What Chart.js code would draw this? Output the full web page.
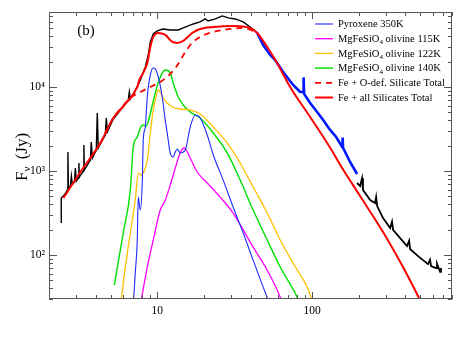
<!DOCTYPE html>
<html>
<head>
<meta charset="utf-8">
<script src="https://cdn.jsdelivr.net/npm/chart.js@4.4.1/dist/chart.umd.min.js"></script>
<style>
  html, body { margin: 0; padding: 0; background: #fff; }
  #wrap { width: 463px; height: 344px; }
</style>
</head>
<body>
<div id="wrap"><canvas id="sed" width="463" height="344"></canvas></div>
<script>
// wavelength (micron) / flux density (Jy)

// observed spectrum, short-wavelength part (black)
const obsBlackX1 = [2.40, 2.40, 2.51, 2.63, 2.65, 2.67, 2.75, 2.79, 2.83, 2.92, 2.96, 3.00, 3.09, 3.12, 3.14, 3.33, 3.36, 3.38, 3.70, 3.75,
                    3.81, 4.04, 4.10, 4.16, 4.29, 4.62, 4.69, 4.76, 5.20, 6.22, 6.50, 6.60, 6.70, 7.43, 7.77, 8.37, 8.75, 9.02, 9.42, 10.0,
                    10.9, 12.13, 13.66, 14.71, 17.07, 18.9, 20.4, 21.3, 23.7, 26.3, 28.7, 31.9, 35.9, 39.8, 44.2];
const obsBlackY1 = [240, 477, 518, 594, 1683, 628, 663, 872, 700, 739, 1086, 760, 825, 1245, 848, 1000, 2040, 1027, 1352, 2214,
                    1428, 1778, 4903, 1878, 2096, 2683, 4270, 2911, 4160, 6280, 7000, 8720, 7200, 10000, 12110, 17300, 24000, 34300, 42750, 46400,
                    49000, 47700, 47700, 50400, 56200, 59400, 64500, 61000, 64500, 70000, 66300, 64500, 59400, 51800, 43900];

// observed spectrum, middle part (blue)
const obsBlueX = [44.2, 48.3, 53.6, 57.7, 65.0, 75.4, 83.7, 87.5, 88.1, 88.8, 97.1, 107.7, 117.8, 130.6, 142.9, 156.2, 157.3, 158.5, 175.8, 195];
const obsBlueY = [43900, 31600, 24000, 20960, 15100, 10560, 8720, 8720, 13000, 8260, 6450, 5040, 4050, 3080, 2540, 1930, 2500, 1878, 1280, 921];

// observed spectrum, long-wavelength part (black)
const obsBlackX2 = [195, 204, 210, 213, 237, 255, 259, 263, 287, 319, 328, 333, 370, 410, 423, 429, 483, 520, 560, 577, 586, 631, 640, 670, 679];
const obsBlackY2 = [720, 663, 820, 594, 452, 416, 490, 383, 275, 210, 250, 199, 159, 128, 148, 118, 97, 87, 78, 88, 74, 70, 79, 63, 70];

// model components
const pyroxeneX = [7.00, 7.21, 7.43, 7.54, 7.77, 8.00, 8.12, 8.37, 8.62, 9.02, 9.42, 9.71, 10.15, 10.77, 11.26, 11.60, 12.13, 12.68, 13.07, 13.46,
                   14.07, 15.16, 16.33, 17.59, 18.94, 21.02, 23.0, 26.66, 30.9, 35.9, 41.6, 48.3, 52.0];
const pyroxeneY = [25, 61, 151, 490, 343, 720, 2340, 3340, 7600, 13900, 16800, 16400, 13150, 7600, 4050, 2830, 1640, 1470, 1683, 1827,
                   1640, 1778, 3340, 4640, 4270, 2683, 1550, 780, 373, 183, 87, 41.6, 29.1];

const olivine115X = [7.88, 8.62, 9.42, 10.46, 11.27, 12.13, 13.07, 14.07, 14.93, 15.38, 16.33, 18.12, 21.02, 25.48, 30.9, 35.9, 41.6, 51.3, 62.2, 65.0];
const olivine115Y = [29.1, 72, 151, 343, 452, 681, 1086, 1640, 1878, 1778, 1428, 973, 720, 490, 316, 199, 124, 66, 31.6, 25];

const olivine122X = [5.86, 6.22, 6.70, 7.21, 7.54, 7.88, 8.12, 8.62, 9.02, 9.42, 9.71, 10.15, 10.61, 10.9, 11.60, 12.5, 14.07, 16.33, 18.94, 23.0,
                     28.3, 34.3, 41.6, 51.3, 62.2, 75.4, 92.8, 100];
const olivine122Y = [29.1, 72, 183, 452, 946, 896, 946, 1352, 2830, 5320, 7000, 9210, 8260, 7400, 6450, 5780, 5470, 5320, 4770, 3340,
                     2150, 1245, 645, 316, 151, 80, 41.6, 29.1];

const olivine140X = [5.28, 6.03, 6.70, 7.00, 7.43, 7.77, 8.12, 8.49, 8.88, 9.29, 9.71, 10.46, 11.27, 12.13, 12.68, 13.66, 14.71, 16.33, 18.94, 23.0,
                     28.3, 34.3, 41.6, 51.3, 62.2, 80.0, 82.4];
const olivine140Y = [44, 183, 594, 1930, 2540, 3250, 3530, 3430, 4270, 6110, 8490, 13150, 15930, 14700, 11160, 7600, 6110, 5040, 4270, 2830,
                     1640, 780, 343, 151, 72, 31.6, 27.5];

const oDefTotalX = [4.29, 5.20, 5.77, 6.70, 7.77, 9.02, 10.46, 12.13, 13.66, 15.16, 16.8, 18.9, 23.0, 29.6, 35.9, 41.6, 44.2];
const oDefTotalY = [2150, 4270, 5470, 7400, 8720, 10000, 11470, 14280, 18770, 26100, 33400, 39400, 45100, 49000, 50400, 46400, 43900];

const allTotalX = [2.48, 3.19, 4.29, 5.20, 6.22, 7.43, 7.65, 8.12, 8.62, 9.02, 9.42, 10.15, 11.27, 12.5, 13.46, 14.71, 16.8, 18.9, 23.0, 30.9,
                   39.8, 44.2, 51.3, 59.4, 72.1, 97.1, 131, 152, 204, 287, 386, 490, 536];
const allTotalY = [477, 973, 2150, 4270, 6280, 10000, 12100, 14700, 19300, 29900, 39400, 43900, 41600, 34300, 33400, 35300, 43900, 49000, 51800, 53300,
                   50400, 43900, 29900, 19300, 10000, 4390, 1880, 1180, 504, 188, 72, 30.8, 22];

const xTickLabels = [10, 100];
const yTickLabels = [100, 1000, 10000];
const legendLabels = ['Pyroxene 350K', 'MgFeSiO_4 olivine 115K', 'MgFeSiO_4 olivine 122K', 'MgFeSiO_4 olivine 140K',
                      'Fe + O-def. Silicate Total', 'Fe + all Silicates Total'];

const SERIF = '"Liberation Serif", "Times New Roman", serif';
const supDigit = { 2: '\u00B2', 3: '\u00B3', 4: '\u2074' };

function pts(xs, ys) {
    return xs.map((x, i) => ({ x: x, y: ys[i] }));
}

function isPow10(v) {
    const e = Math.log10(v);
    return Math.abs(e - Math.round(e)) < 1e-6;
}

// text with "_4" style subscripts
function drawRich(ctx, str, x, y, size) {
    const parts = str.split(/_(\d)/);
    let cx = x;
    parts.forEach((p, i) => {
        const sub = i % 2 === 1;
        ctx.font = (sub ? size * 0.68 : size) + 'px ' + SERIF;
        ctx.fillText(p, cx, y + (sub ? size * 0.32 : 0));
        cx += ctx.measureText(p).width;
    });
}

// frame with inward ticks on all four sides, panel tag, y title, legend
const decorations = {
    id: 'decorations',
    afterDraw(chart) {
        const { ctx, chartArea: a, scales } = chart;
        const xs = scales.x, ys = scales.y;
        ctx.save();
        ctx.strokeStyle = '#555';
        ctx.lineWidth = 1;
        ctx.strokeRect(a.left + 0.5, a.top + 0.5, a.right - a.left - 1, a.bottom - a.top - 1);

        ctx.beginPath();
        [1, 10, 100].forEach(dec => {
            for (let m = 1; m <= 9; m++) {
                const v = m * dec;
                if (v < xs.min || v > xs.max) continue;
                const px = Math.round(xs.getPixelForValue(v)) + 0.5;
                const len = m === 1 ? 7 : 4;
                ctx.moveTo(px, a.bottom); ctx.lineTo(px, a.bottom - len);
                ctx.moveTo(px, a.top); ctx.lineTo(px, a.top + len);
            }
        });
        [10, 100, 1000, 10000].forEach(dec => {
            for (let m = 1; m <= 9; m++) {
                const v = m * dec;
                if (v < ys.min || v > ys.max) continue;
                const py = Math.round(ys.getPixelForValue(v)) + 0.5;
                const len = m === 1 ? 8 : 4;
                ctx.moveTo(a.left, py); ctx.lineTo(a.left + len, py);
                ctx.moveTo(a.right, py); ctx.lineTo(a.right - len, py);
            }
        });
        ctx.stroke();

        ctx.fillStyle = '#000';
        ctx.textBaseline = 'middle';
        ctx.textAlign = 'center';
        ctx.font = '15px ' + SERIF;
        ctx.fillText('(b)', 86, 31);

        // y title, rotated: F with subscript nu
        ctx.save();
        ctx.translate(22, 157);
        ctx.rotate(-Math.PI / 2);
        ctx.textAlign = 'left';
        ctx.textBaseline = 'alphabetic';
        ctx.font = '17px ' + SERIF;
        const w1 = ctx.measureText('F').width;
        const w2 = 8;
        const w3 = ctx.measureText(' (Jy)').width;
        let tx = -(w1 + w2 + w3) / 2;
        ctx.fillText('F', tx, 5);
        ctx.font = '11px ' + SERIF;
        ctx.fillText('\u03BD', tx + w1, 8);
        ctx.font = '17px ' + SERIF;
        ctx.fillText(' (Jy)', tx + w1 + w2, 5);
        ctx.restore();

        // legend
        ctx.textAlign = 'left';
        ctx.textBaseline = 'middle';
        legendLabels.forEach((label, i) => {
            const ds = chart.data.datasets.find(d => d.label === label);
            const y = 24 + i * 14.7;
            ctx.strokeStyle = ds.borderColor;
            ctx.lineWidth = ds.borderWidth;
            ctx.setLineDash(ds.borderDash || []);
            ctx.beginPath();
            ctx.moveTo(315, y); ctx.lineTo(333, y);
            ctx.stroke();
            ctx.setLineDash([]);
            ctx.fillStyle = '#000';
            drawRich(ctx, label, 338, y + 0.5, 10.5);
        });
        ctx.restore();
    }
};

function model(label, xs, ys, color, width, dash) {
    return {
        label: label,
        data: pts(xs, ys),
        borderColor: color,
        borderWidth: width,
        borderDash: dash || [],
        pointRadius: 0,
        fill: false,
        cubicInterpolationMode: 'monotone'
    };
}

function observed(xs, ys, color, width) {
    return {
        label: '',
        data: pts(xs, ys),
        borderColor: color,
        borderWidth: width,
        pointRadius: 0,
        fill: false,
        tension: 0
    };
}

// first dataset is drawn on top
const datasets = [
    model(legendLabels[5], allTotalX, allTotalY, '#ff0000', 2),
    model(legendLabels[4], oDefTotalX, oDefTotalY, '#ff0000', 1.8, [6, 5]),
    model(legendLabels[0], pyroxeneX, pyroxeneY, '#1f2cff', 1.1),
    model(legendLabels[1], olivine115X, olivine115Y, '#ff00ff', 1.3),
    model(legendLabels[2], olivine122X, olivine122Y, '#ffc000', 1.3),
    model(legendLabels[3], olivine140X, olivine140Y, '#00e000', 1.4),
    observed(obsBlackX1, obsBlackY1, '#000000', 1.4),
    observed(obsBlueX, obsBlueY, '#0018ff', 2.6),
    observed(obsBlackX2, obsBlackY2, '#000000', 1.8)
];

new Chart(document.getElementById('sed'), {
    type: 'line',
    data: { datasets: datasets },
    options: {
        responsive: false,
        animation: false,
        layout: { padding: { top: 12, right: 11, left: 0, bottom: 0 } },
        plugins: { legend: { display: false }, tooltip: { enabled: false } },
        scales: {
            x: {
                type: 'logarithmic',
                min: 2,
                max: 800,
                grid: { display: false, drawTicks: false },
                border: { display: false },
                afterFit: s => { s.height = 45; },
                ticks: {
                    autoSkip: false,
                    maxRotation: 0,
                    padding: 5,
                    color: '#000',
                    font: { family: SERIF, size: 11.5 },
                    callback: v => xTickLabels.includes(Math.round(v)) && isPow10(v) ? String(Math.round(v)) : ''
                }
            },
            y: {
                type: 'logarithmic',
                min: 30,
                max: 78000,
                grid: { display: false, drawTicks: false },
                border: { display: false },
                afterFit: s => { s.width = 49; },
                ticks: {
                    autoSkip: false,
                    padding: 4,
                    color: '#000',
                    font: { family: SERIF, size: 11.5 },
                    callback: v => yTickLabels.includes(Math.round(v)) && isPow10(v) ? '10' + supDigit[Math.round(Math.log10(v))] : ''
                }
            }
        }
    },
    plugins: [decorations]
});
</script>
</body>
</html>
